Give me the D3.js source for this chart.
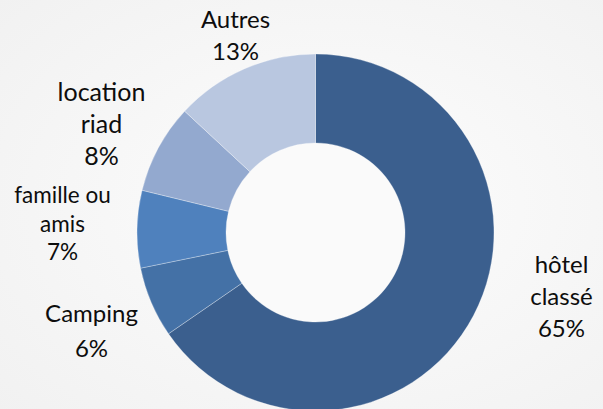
<!DOCTYPE html>
<html lang="fr">
<head>
  <meta charset="UTF-8" />
  <title>Hébergement</title>
  <script src="https://d3js.org/d3.v7.min.js"></script>
  <style>
    html, body {
      margin: 0;
      padding: 0;
      background: #f8f8f8;
      font-family: "Lato", "Open Sans", sans-serif;
    }
    .lbl {
      fill: #0d0d0d;
      text-anchor: middle;
    }
  </style>
</head>
<body>
  <div id="chart"></div>

  <script>
    // data (share of the ring, clockwise from 12 o'clock)
    const categories = ["hôtel classé", "Camping", "famille ou amis", "location riad", "Autres"];
    const labelLines = [["hôtel", "classé"], ["Camping"], ["famille ou", "amis"], ["location", "riad"], ["Autres"]];
    const shares = [65.4, 6.4, 7.0, 8.1, 13.1];

    const colors = ["#3b5f8e", "#4471a6", "#4f81bd", "#93a9cf", "#b9c7e0"];

    // label block placement, relative to ring centre (layout only)
    const labelAnchor = [[246, 273], [-224, 322], [-253, 203], [-214, 101], [-80, 28]];
    const labelFont = [24, 24, 22.5, 25, 24];
    const labelStep = [32, 35, 28.5, 32, 32];

    const width = 603, height = 409;
    const cx = 315.5, cy = 232.5;
    const outerR = 178.5, innerR = 89.5;

    const svg = d3.select("#chart")
      .append("svg")
      .attr("width", width)
      .attr("height", height);

    const defs = svg.append("defs");
    const grad = defs.append("radialGradient")
      .attr("id", "bg")
      .attr("cx", "55%").attr("cy", "50%").attr("r", "75%");
    grad.append("stop").attr("offset", "0%").attr("stop-color", "#fdfdfd");
    grad.append("stop").attr("offset", "100%").attr("stop-color", "#f1f1f1");

    svg.append("rect")
      .attr("width", width)
      .attr("height", height)
      .attr("fill", "url(#bg)");

    const pie = d3.pie().sort(null).value(d => d);
    const arcs = pie(shares);
    const total = d3.sum(shares);

    const arc = d3.arc().innerRadius(innerR).outerRadius(outerR);

    const g = svg.append("g").attr("transform", `translate(${cx},${cy})`);

    g.append("circle")
      .attr("r", innerR)
      .attr("fill", "#fafafa");

    g.selectAll("path")
      .data(arcs)
      .enter().append("path")
      .attr("d", arc)
      .attr("fill", (d, i) => colors[i])
      .attr("stroke", "#ffffff")
      .attr("stroke-opacity", 0.5)
      .attr("stroke-width", 0.6);

    const labels = svg.append("g")
      .attr("transform", `translate(${cx},0)`);

    arcs.forEach((a, i) => {
      const lines = labelLines[i].concat([Math.round(a.value / total * 100) + "%"]);
      const t = labels.append("text")
        .attr("class", "lbl")
        .attr("font-size", labelFont[i])
        .attr("x", labelAnchor[i][0])
        .attr("y", labelAnchor[i][1]);
      lines.forEach((s, k) => {
        t.append("tspan")
          .attr("x", labelAnchor[i][0])
          .attr("y", labelAnchor[i][1] + k * labelStep[i])
          .text(s);
      });
    });
  </script>
</body>
</html>
